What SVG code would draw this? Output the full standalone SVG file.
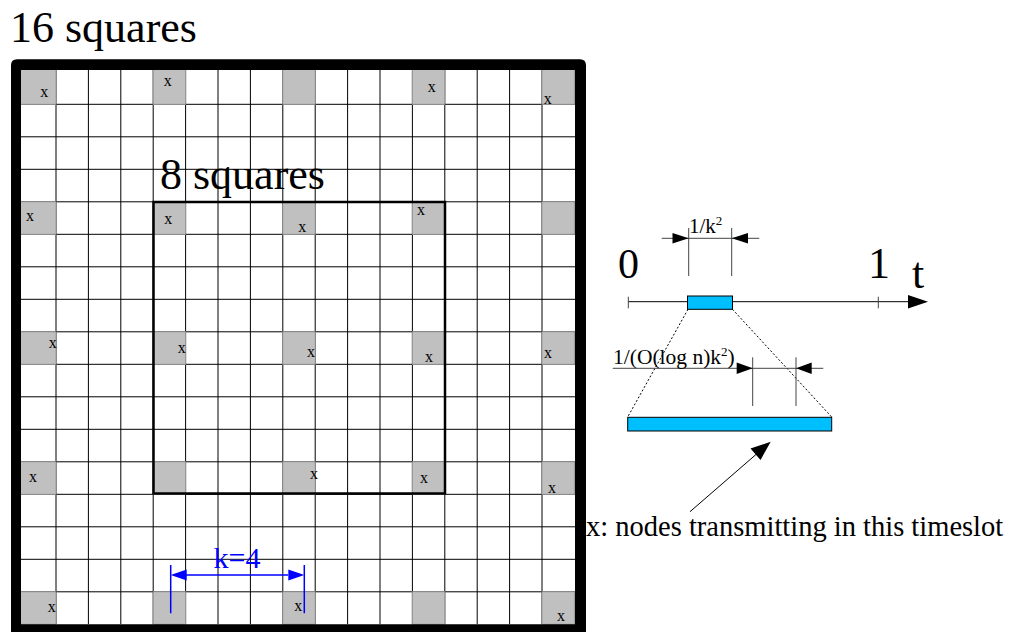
<svg xmlns="http://www.w3.org/2000/svg" width="1009" height="633" viewBox="0 0 1009 633">
<defs>
<style>
text{font-family:"Liberation Serif","Times New Roman",serif;fill:#000}
.big{font-size:44px}
.x{font-size:16px}
.g{fill:#c0c0c0;stroke:#9a9a9a;stroke-width:1}
.grid{stroke:#000;stroke-width:1;fill:none}
.dim{stroke:#444;stroke-width:1;fill:none}
.bar{fill:#00bfff;stroke:#000;stroke-width:1}
.dot{stroke:#000;stroke-width:1;stroke-dasharray:2,2;fill:none}
</style>
</defs>
<rect width="1009" height="633" fill="#fff"/>
<g id="title"><text class="big" x="10" y="42">16 squares</text></g>
<g id="grid">
<path class="grid" d="M56 70V624M88.4 70V624M120.8 70V624M153.2 70V624M185.6 70V624M218 70V624M250.4 70V624M282.8 70V624M315.2 70V624M347.6 70V624M380 70V624M412.4 70V624M444.8 70V624M477.2 70V624M509.6 70V624M542 70V624
M21 104.3H575M21 136.8H575M21 169.3H575M21 201.8H575M21 234.3H575M21 266.8H575M21 299.3H575M21 331.8H575M21 364.3H575M21 396.8H575M21 429.3H575M21 461.8H575M21 494.3H575M21 526.8H575M21 559.3H575M21 591.8H575"/>
</g>
<g id="cells">
<rect class="g" x="16" y="66" width="40" height="38.3"/>
<rect class="g" x="153.2" y="66" width="32.4" height="38.3"/>
<rect class="g" x="282.8" y="66" width="32.4" height="38.3"/>
<rect class="g" x="412.4" y="66" width="32.4" height="38.3"/>
<rect class="g" x="542" y="66" width="32.4" height="38.3"/>
<rect class="g" x="16" y="201.8" width="40" height="32.5"/>
<rect class="g" x="153.2" y="201.8" width="32.4" height="32.5"/>
<rect class="g" x="282.8" y="201.8" width="32.4" height="32.5"/>
<rect class="g" x="412.4" y="201.8" width="32.4" height="32.5"/>
<rect class="g" x="542" y="201.8" width="32.4" height="32.5"/>
<rect class="g" x="16" y="331.8" width="40" height="32.5"/>
<rect class="g" x="153.2" y="331.8" width="32.4" height="32.5"/>
<rect class="g" x="282.8" y="331.8" width="32.4" height="32.5"/>
<rect class="g" x="412.4" y="331.8" width="32.4" height="32.5"/>
<rect class="g" x="542" y="331.8" width="32.4" height="32.5"/>
<rect class="g" x="16" y="461.8" width="40" height="32.5"/>
<rect class="g" x="153.2" y="461.8" width="32.4" height="32.5"/>
<rect class="g" x="282.8" y="461.8" width="32.4" height="32.5"/>
<rect class="g" x="412.4" y="461.8" width="32.4" height="32.5"/>
<rect class="g" x="542" y="461.8" width="32.4" height="32.5"/>
<rect class="g" x="16" y="591.8" width="40" height="32.5"/>
<rect class="g" x="153.2" y="591.8" width="32.4" height="32.5"/>
<rect class="g" x="282.8" y="591.8" width="32.4" height="32.5"/>
<rect class="g" x="412.4" y="591.8" width="32.4" height="32.5"/>
<rect class="g" x="542" y="591.8" width="32.4" height="32.5"/>
</g>
<g id="marks" class="x" text-anchor="middle">
<text class="x" x="44.3" y="97.3">x</text>
<text class="x" x="167.7" y="85.7">x</text>
<text class="x" x="431.7" y="92.3">x</text>
<text class="x" x="547.7" y="104">x</text>
<text class="x" x="30" y="221">x</text>
<text class="x" x="168.3" y="224">x</text>
<text class="x" x="302.3" y="232.3">x</text>
<text class="x" x="421" y="215">x</text>
<text class="x" x="52.7" y="348.3">x</text>
<text class="x" x="181.7" y="353">x</text>
<text class="x" x="311" y="357">x</text>
<text class="x" x="429" y="362">x</text>
<text class="x" x="548" y="358">x</text>
<text class="x" x="33" y="482">x</text>
<text class="x" x="314" y="479">x</text>
<text class="x" x="424" y="483.3">x</text>
<text class="x" x="552" y="493">x</text>
<text class="x" x="51.7" y="612.3">x</text>
<text class="x" x="298.3" y="611.3">x</text>
<text class="x" x="561" y="620.7">x</text>
</g>
<g id="outer-border">
<path fill="#000" fill-rule="evenodd" d="M17 59.3H580Q586 59.3 586 65.3V632H11V65.3Q11 59.3 17 59.3ZM21 70V624.3H575V70Z"/>
</g>
<g id="inner-square">
<rect x="153.5" y="202" width="291.5" height="291.5" fill="none" stroke="#000" stroke-width="2.5"/>
<text class="big" x="160" y="189">8 squares</text>
</g>
<g id="k-dimension" fill="#0000ff" stroke="#0000ff">
<path d="M170.7 565V613.3M304.3 565V613.3M186 575H288" stroke-width="1.5" fill="none"/>
<polygon points="170.7,575 186.7,569.5 186.7,580.5" stroke="none"/>
<polygon points="304.3,575 288.3,569.5 288.3,580.5" stroke="none"/>
<text x="237" y="568" font-size="30" text-anchor="middle" style="fill:#0000ff" stroke="none">k=4</text>
</g>
<g id="timeline">
<line x1="628.3" y1="301.7" x2="910" y2="301.7" stroke="#000" stroke-width="1"/>
<polygon points="928,301.7 908,295 908,308.4" fill="#000"/>
<path class="dim" d="M628.3 296.7V308.3M878.3 296.7V308.3"/>
<rect class="bar" x="687.5" y="296" width="45" height="13.3"/>
<text x="618" y="278" font-size="42">0</text>
<text x="868" y="278" font-size="44">1</text>
<text x="912" y="288" font-size="44">t</text>
</g>
<g id="slot-dimension">
<path class="dim" d="M688.7 228V276M731.7 228V276M661.7 238.3H759.3"/>
<polygon points="688.7,238.3 672.5,233 672.5,243.6" fill="#000"/>
<polygon points="731.7,238.3 748,233 748,243.6" fill="#000"/>
<text x="689" y="233" font-size="21">1/k<tspan font-size="13" dy="-8">2</tspan></text>
</g>
<g id="zoom-lines">
<line class="dot" x1="688" y1="309.3" x2="627.7" y2="417"/>
<line class="dot" x1="732.5" y1="309.3" x2="831.7" y2="417"/>
</g>
<g id="subslot-dimension">
<path class="dim" d="M752.7 357.3V406M796 357.3V406M612.7 368.3H823.3"/>
<polygon points="752.7,368.3 736.7,362.5 736.7,374.1" fill="#000"/>
<polygon points="796,368.3 811.7,362.5 811.7,374.1" fill="#000"/>
<text x="613" y="363.5" font-size="21.5">1/(O(log n)k<tspan font-size="13" dy="-8">2</tspan><tspan dy="8">)</tspan></text>
</g>
<g id="slot-bar">
<rect class="bar" x="627.7" y="417.3" width="204" height="13.7"/>
</g>
<g id="legend">
<line x1="690" y1="511.7" x2="760" y2="451" stroke="#000" stroke-width="1"/>
<polygon points="770.7,441.7 750.5,448.5 760.5,460" fill="#000"/>
<text x="586" y="536" font-size="28.5">x: nodes transmitting in this timeslot</text>
</g>
</svg>
